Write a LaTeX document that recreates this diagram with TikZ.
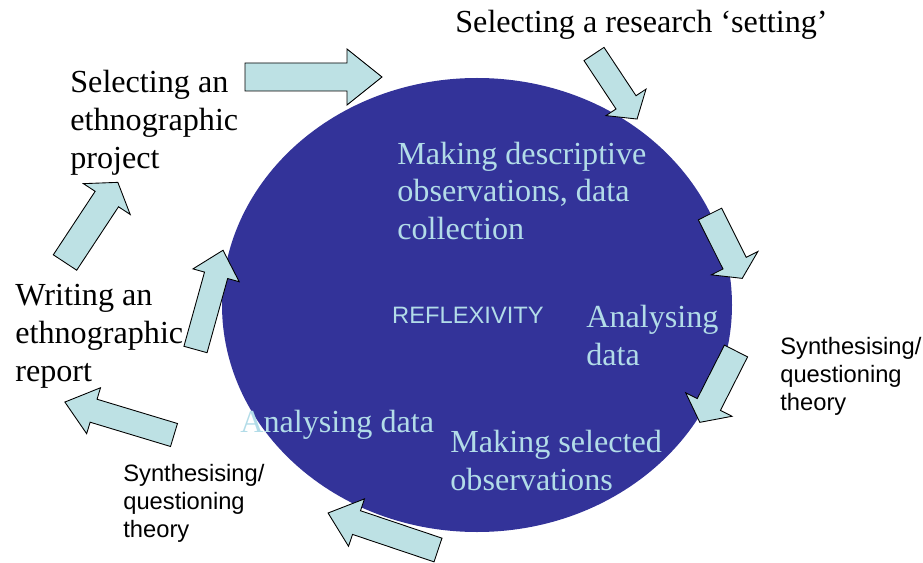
\documentclass[tikz,border=0pt]{standalone}
\usepackage{fontspec}
\setmainfont{Liberation Serif}
\setsansfont{Liberation Sans}
\definecolor{ovalblue}{RGB}{51,51,153}
\definecolor{arrowfill}{RGB}{189,225,228}
\definecolor{paleblue}{RGB}{178,220,232}
\tikzset{
	stage/.style = {anchor=west, inner sep=0pt, align=left,
		font=\fontsize{18.3}{21.6}\selectfont},
	inner/.style = {stage, text=paleblue},
	note/.style = {anchor=west, inner sep=0pt, align=left,
		font=\sffamily\fontsize{13.5}{15.9}\selectfont},
	pics/bigarrow/.style args = {#1/#2/#3}{code={
		\filldraw[fill=arrowfill, draw=black, line width=0.5pt, line join=miter]
			(0,-#3) -- ({#1-#2},-#3) -- ({#1-#2},{-2*#3}) -- (#1,0)
			-- ({#1-#2},{2*#3}) -- ({#1-#2},#3) -- (0,#3) -- cycle;
	}}
}

\begin{document}
\begin{tikzpicture}[x=0.02cm, y=0.02cm]
	\useasboundingbox (0,0) rectangle (923,562);
	% the big oval
	\fill[ovalblue] (477,257) ellipse [x radius=255, y radius=227];
	% block arrows round the cycle
	\foreach \px/\py/\rot/\len/\hd/\wd in {
		245/485/0/137/35/14,
		594/508/-56.5/78/20/12,
		710/348/-63.4/72/17/13,
		736/211/-116.9/80/20/13,
		438/12/161.4/116/30/12.5,
		174/127/163.2/114/30/12,
		195.5/212.5/74.5/103/26/12,
		65/299.5/56.6/96/20/14} {
		\pic[rotate=\rot] at (\px,\py) {bigarrow={\len/\hd/\wd}};
	}
	% stages outside the oval
	\node[stage] (setting) at (455,537) {Selecting a research ‘setting’};
	\node[stage] (project) at (70,439) {Selecting an\\ethnographic\\project};
	\node[stage] (report) at (15,226) {Writing an\\ethnographic\\report};
	% stages inside the oval
	\node[inner] (descr) at (397,371) {Making descriptive\\observations, data\\collection};
	\node[inner] (analA) at (586,226.5) {Analysing\\data};
	\node[inner] (analB) at (240,137) {Analysing data};
	\node[inner] (select) at (450,101.5) {Making selected\\observations};
	\node[note, anchor=center, text=paleblue] (reflex) at (468,247) {REFLEXIVITY};
	% side notes
	\node[note] (synthR) at (780,186) {Synthesising/\\questioning\\theory};
	\node[note] (synthL) at (123,59) {Synthesising/\\questioning\\theory};
\end{tikzpicture}
\end{document}
